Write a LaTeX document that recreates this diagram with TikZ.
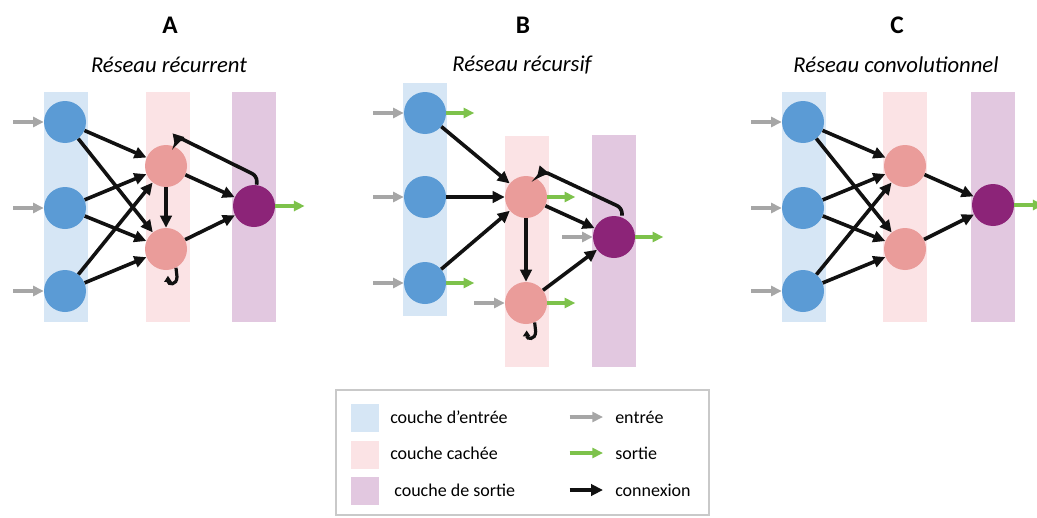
\documentclass[tikz,border=0pt]{standalone}
\usepackage{fontspec}
\setmainfont{Carlito}
\usetikzlibrary{arrows.meta}
\definecolor{inbandfill}{HTML}{D6E6F5}
\definecolor{hidbandfill}{HTML}{FBE3E5}
\definecolor{outbandfill}{HTML}{E2C8E0}
\definecolor{inneuronfill}{HTML}{5B9BD5}
\definecolor{hidneuronfill}{HTML}{EA9C9A}
\definecolor{outneuronfill}{HTML}{8C2478}
\definecolor{connblack}{HTML}{111111}
\definecolor{feedgray}{HTML}{A6A6A6}
\definecolor{emitgreen}{HTML}{7DC24B}
\definecolor{framegray}{HTML}{C9C9C9}
\tikzset{
  band/.style={rectangle, inner sep=0pt, minimum width=33pt, minimum height=172.5pt},
  inlayer/.style={band, fill=inbandfill},
  hidlayer/.style={band, fill=hidbandfill},
  outlayer/.style={band, fill=outbandfill},
  neuron/.style={circle, inner sep=0pt, minimum size=31.5pt},
  inneuron/.style={neuron, fill=inneuronfill},
  hidneuron/.style={neuron, fill=hidneuronfill},
  outneuron/.style={neuron, fill=outneuronfill},
  conn/.style={-{Triangle[length=9pt,width=8.5pt]}, line width=2.7pt, draw=connblack},
  feed/.style={conn, draw=feedgray, -{Triangle[length=8pt,width=7.5pt]}, line width=2.4pt},
  emit/.style={feed, draw=emitgreen},
  selfloop/.style={conn, -{Triangle[length=4.5pt,width=5.5pt]}, line width=2.4pt},
  letter/.style={font=\fontsize{19}{23}\selectfont\bfseries},
  netname/.style={font=\fontsize{17}{20}\selectfont\itshape},
  legframe/.style={rectangle, draw=framegray, line width=0.8pt, minimum width=279.75pt, minimum height=93.75pt},
  legsquare/.style={rectangle, inner sep=0pt, minimum size=21pt},
  legtext/.style={anchor=west, inner sep=0pt, font=\fontsize{13.5}{16}\selectfont}
}

\begin{document}
\begin{tikzpicture}[x=0.75pt, y=-0.75pt]
\useasboundingbox (0,0) rectangle (1037,517);

% Panel titles
\node[letter]  (letterA) at (170,25) {A};
\node[letter]  (letterB) at (523,25) {B};
\node[letter]  (letterC) at (897,25) {C};
\node[netname] (nameA) at (169,65) {Réseau récurrent};
\node[netname] (nameB) at (522,65) {Réseau récursif};
\node[netname] (nameC) at (896,65) {Réseau convolutionnel};

% --- A: recurrent network ---
\node[inlayer]  (bandA1) at (66,207) {};
\node[hidlayer] (bandA2) at (167.5,207) {};
\node[outlayer] (bandA3) at (254,207) {};
\foreach \y [count=\i] in {122,208,291} { \node[inneuron] (a\i) at (65,\y) {}; }
\node[hidneuron] (ah1) at (166,166) {};
\node[hidneuron] (ah2) at (166,249) {};
\node[outneuron] (ao)  at (254,206) {};

\foreach \i in {1,2,3} {
  \draw[feed] ([xshift=-23pt]a\i.west) -- (a\i.west);
  \foreach \j in {1,2} { \draw[conn] (a\i) -- (ah\j); }
}
\draw[conn] (ah1) -- (ah2);
\draw[conn] (ah1) -- (ao);
\draw[conn] (ah2) -- (ao);
\draw[emit] (ao.east) -- ([xshift=22pt]ao.east);
% feedback from output, and hidden self-loop
\draw[conn, rounded corners=4pt] ([xshift=2pt]ao.north) -- (257,176) -- (178,137) -- (ah1.65);
\draw[selfloop] (ah2.-62) -- ++(1,9) .. controls +(0,9) and +(0,9) .. ++(-9,-1);

% --- B: recursive network ---
\node[inlayer, minimum height=174.75pt]  (bandB1) at (424.5,199.5) {};
\node[hidlayer, minimum height=173.25pt] (bandB2) at (527,251.5) {};
\node[outlayer, minimum height=174pt]    (bandB3) at (614,251) {};
\foreach \y [count=\i] in {113,197,283} { \node[inneuron] (b\i) at (425,\y) {}; }
\node[hidneuron] (bh1) at (526,197) {};
\node[hidneuron] (bh2) at (526,303) {};
\node[outneuron] (bo)  at (614,237) {};

\foreach \n in {b1,b2,b3,bh2,bo} { \draw[feed] ([xshift=-23pt]\n.west) -- (\n.west); }
\foreach \n in {b1,b3,bh1,bh2,bo} { \draw[emit] (\n.east) -- ([xshift=21pt]\n.east); }
\foreach \i in {1,2,3} { \draw[conn] (b\i) -- (bh1); }
\draw[conn] (bh1) -- (bh2);
\draw[conn] (bh1) -- (bo);
\draw[conn] (bh2) -- (bo);
% feedback from output, and hidden self-loop
\draw[conn, rounded corners=4pt] ([xshift=6pt]bo.north) -- (622,208) -- (543,171) -- (bh1.60);
\draw[selfloop] (bh2.-66) -- ++(1,9) .. controls +(0,9) and +(0,9) .. ++(-9,-1);

% --- C: convolutional network ---
\node[inlayer]  (bandC1) at (804,207) {};
\node[hidlayer] (bandC2) at (905,207) {};
\node[outlayer] (bandC3) at (992.5,207) {};
\foreach \y [count=\i] in {122,208,291} { \node[inneuron] (c\i) at (803,\y) {}; }
\node[hidneuron] (ch1) at (905,166) {};
\node[hidneuron] (ch2) at (905,249) {};
\node[outneuron] (co)  at (993,205) {};

\foreach \i in {1,2,3} {
  \draw[feed] ([xshift=-23pt]c\i.west) -- (c\i.west);
  \foreach \j in {1,2} { \draw[conn] (c\i) -- (ch\j); }
}
\draw[conn] (ch1) -- (co);
\draw[conn] (ch2) -- (co);
\draw[emit] (co.east) -- ([xshift=22pt]co.east);

% --- Legend ---
\node[legframe] (legend) at (522.5,452.5) {};
\node[legsquare, fill=inbandfill]  (keyIn)  at (365,418) {};
\node[legsquare, fill=hidbandfill] (keyHid) at (365,454.5) {};
\node[legsquare, fill=outbandfill] (keyOut) at (365,491) {};
\node[legtext] (keyInText)  at (390,417) {couche d’entrée};
\node[legtext] (keyHidText) at (390,453) {couche cachée};
\node[legtext] (keyOutText) at (390,490) {\ couche de sortie};
\node[legtext] (keyFeedText) at (615,417) {entrée};
\node[legtext] (keyEmitText) at (615,453) {sortie};
\node[legtext] (keyConnText) at (615,490) {connexion};
\draw[feed] ([xshift=-34pt]keyFeedText.west) -- ([xshift=-9pt]keyFeedText.west);
\draw[emit] ([xshift=-34pt]keyEmitText.west) -- ([xshift=-9pt]keyEmitText.west);
\draw[conn] ([xshift=-34pt]keyConnText.west) -- ([xshift=-9pt]keyConnText.west);

\end{tikzpicture}
\end{document}
